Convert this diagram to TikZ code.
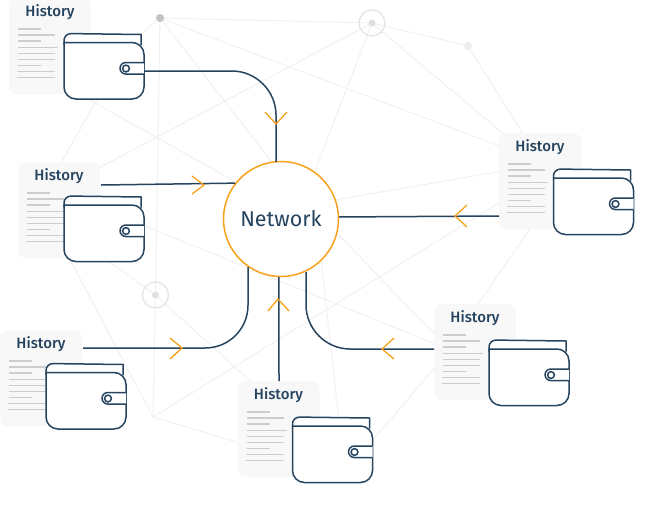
\documentclass[tikz,border=0pt]{standalone}
\usepackage{fontspec}
\setmainfont{Fira Sans}
\newfontfamily\histfont{Fira Sans Medium}
\newfontfamily\netfont{Fira Sans}
\definecolor{navy}{HTML}{26445F}
\definecolor{amber}{HTML}{F8A11B}
\definecolor{faint}{HTML}{F1F1F1}
\definecolor{cardbg}{HTML}{F8F8F8}
\definecolor{txtline}{HTML}{CDCDCD}
\tikzset{
  bgline/.style={draw=faint,line width=1pt},
  cardbox/.style={fill=cardbg,rounded corners=8pt,minimum width=82pt,minimum height=96pt,inner sep=0pt,anchor=north west},
  histlabel/.style={text=navy,font=\histfont\fontsize{15}{16}\selectfont,inner sep=0pt,anchor=center},
  txtrule/.style={draw=txtline,line width=1.1pt},
  walletline/.style={draw=navy,line width=1.5pt,fill=white},
  conn/.style={draw=navy,line width=1.5pt},
  chevron/.style={draw=amber,line width=1.3pt},
  netnode/.style={circle,draw=amber,line width=1.5pt,fill=white,minimum size=115pt,inner sep=0pt,text=navy,font=\netfont\fontsize{21.5}{24}\selectfont},
  ring/.style={circle,draw=black!10,line width=1.3pt,minimum size=26pt,inner sep=0pt},
}
\newcommand{\historycard}[3]{%
  \node[cardbox] (#1) at (#2,#3) {};
  \begin{scope}[shift={(#2,#3)}]
    \node[histlabel] (#1t) at (41,14) {History};
    \draw[txtrule] (9,31)--(32,31) (9,37)--(46,37) (9,43)--(32,43) (9,49.5)--(49,49.5)
      (9,55.5)--(46,55.5) (9,61.5)--(46,61.5) (9,67.5)--(32,67.5) (8,73.5)--(46,73.5) (8,79.5)--(46,79.5);
  \end{scope}}
\newcommand{\walletat}[3]{%
  \begin{scope}[shift={(#2,#3)}]
    \draw[walletline] (0,12) [rounded corners=7pt] -- (0,0.5) [sharp corners] -- (77,1.5) -- (77,12);
    \draw[walletline] (0,9.5) [rounded corners=12pt] -- (80,9.5) -- (80,66) -- (0,66) [sharp corners] -- (0,9.5) -- cycle;
    \draw[walletline,rounded corners=5.8pt] (80,29.5) -- (56,29.5) -- (56,41) -- (80,41);
    \draw[walletline] (62,35.5) circle[radius=3.4];
    \coordinate (#1) at (80,38);
  \end{scope}}
\begin{document}
\begin{tikzpicture}[x=1pt,y=-1pt]
\useasboundingbox (0,0) rectangle (646,507);
\fill[white] (0,0) rectangle (646,507);
% background mesh
\coordinate (A) at (160,18);
\coordinate (B) at (372,23);
\coordinate (C) at (468,46);
\coordinate (D) at (155.5,295);
\coordinate (E) at (153,417);
\draw[bgline] (A)--(B) (B)--(C) (A)--(100,70) (A)--(D) (D)--(E) (A)--(272,162) (A)--(510,150)
  (B)--(80,178) (B)--(300,210) (B)--(520,148) (C)--(530,145)
  (90,100)--(250,190) (100,94)--(60,165)
  (550,200)--(460,330) (300,206)--(520,168) (E)--(520,190)
  (300,195)--(450,350) (130,220)--(450,350) (360,455)--(450,350) (320,250)--(340,430)
  (110,262)--(D) (D)--(260,390) (E)--(65,250) (E)--(250,446);
\fill[black!24] (A) circle[radius=4];
\fill[black!7] (C) circle[radius=4];
\node[ring] (ringB) at (B) {};
\fill[black!12] (B) circle[radius=3.5];
\node[ring] (ringD) at (D) {};
\fill[black!12] (D) circle[radius=3.5];
% cards and wallets
\historycard{cA}{9}{-2}
\historycard{cB}{18}{162}
\historycard{cC}{0}{330}
\historycard{cD}{237.5}{381}
\historycard{cE}{434}{304}
\historycard{cF}{499}{133}
\walletat{wA}{64}{33}
\walletat{wB}{64}{195.5}
\walletat{wC}{46}{363}
\walletat{wD}{292.5}{416.5}
\walletat{wE}{489}{339.5}
\walletat{wF}{553.5}{168.5}
% centre
\node[netnode] (net) at (281,219) {\raisebox{1pt}{Network}};
% connectors
\coordinate (sB) at (101,185);
\coordinate (sC) at (83,348);
\coordinate (sD) at (279,381);
\coordinate (sE) at (434,349);
\coordinate (sF) at (499,216);
\coordinate (ta) at (276,162);
\coordinate (tc) at (248,267);
\coordinate (te) at (306,272);
\draw[conn] (wA) -- (232,71) .. controls (256,71) and (276,91) .. (276,115) -- (ta);
\draw[conn] (sB) -- (net.142);
\draw[conn] (sC) -- (205,348) .. controls (229,348) and (248,329) .. (248,305) -- (tc);
\draw[conn] (sD) -- (net.-92);
\draw[conn] (sE) -- (350,349) .. controls (326,349) and (306,329) .. (306,305) -- (te);
\draw[conn] (sF) -- (net.2);
% arrowheads
\draw[chevron] (265,112)--(276,124)--(287,112);
\draw[chevron] (192,176)--(204,185)--(192,194);
\draw[chevron] (467,205)--(455,216)--(467,227);
\draw[chevron] (170,338)--(182,348)--(170,359);
\draw[chevron] (268,311)--(278,299)--(289,311);
\draw[chevron] (394,338)--(382,349)--(394,359);
\end{tikzpicture}
\end{document}
